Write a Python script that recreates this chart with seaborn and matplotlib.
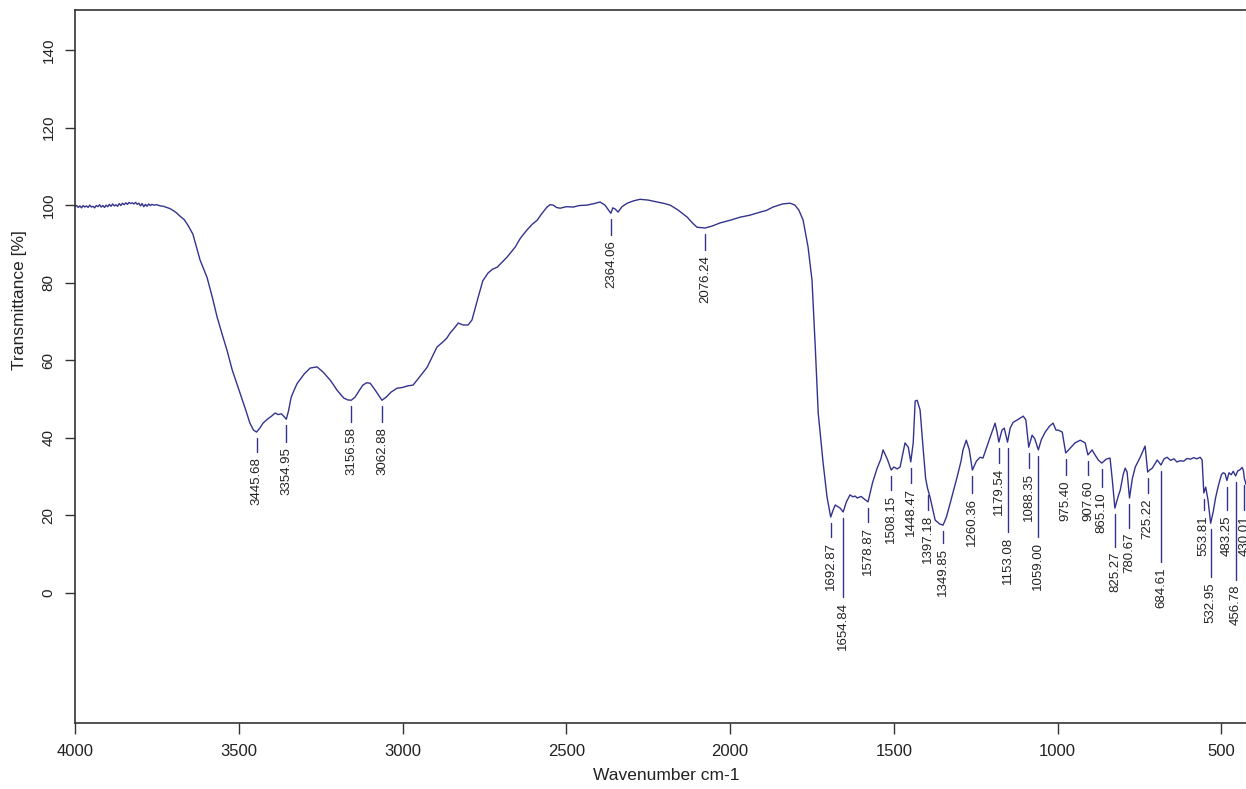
import matplotlib
matplotlib.use("Agg")
import matplotlib.pyplot as plt
import seaborn as sns
import pandas as pd

# ---------------- data ----------------
wavenumber = [
    4000, 3995, 3990, 3985, 3980, 3975, 3970, 3965, 3960, 3955, 3950, 3945, 3940, 3935,
    3930, 3925, 3920, 3915, 3910, 3905, 3900, 3895, 3890, 3885, 3880, 3875, 3870, 3865,
    3860, 3855, 3850, 3845, 3840, 3835, 3830, 3825, 3820, 3815, 3810, 3805, 3800, 3795,
    3790, 3785, 3780, 3775, 3770, 3765, 3760, 3750, 3740, 3730, 3720, 3710, 3700, 3690,
    3680, 3667, 3655, 3640, 3630, 3618, 3597, 3580, 3566, 3550, 3536, 3520, 3496, 3480,
    3466, 3455, 3445.68, 3435, 3426, 3410, 3400, 3389, 3380, 3370, 3362, 3354.95, 3348,
    3340, 3330, 3322, 3300, 3282, 3261, 3243, 3220, 3200, 3180, 3168, 3156.58, 3145, 3130,
    3121, 3110, 3099, 3085, 3062.88, 3050, 3035, 3017, 3000, 2985, 2968, 2950, 2925, 2910,
    2895, 2880, 2865, 2855, 2840, 2830, 2815, 2800, 2788, 2769, 2755, 2739, 2725, 2711,
    2695, 2681, 2656, 2640, 2620, 2605, 2589, 2575, 2559, 2550, 2540, 2530, 2519, 2500,
    2479, 2460, 2437, 2415, 2397, 2382, 2370, 2364.06, 2358, 2351, 2342, 2330, 2314, 2295,
    2275, 2250, 2223, 2200, 2183, 2160, 2131, 2115, 2101, 2076.24, 2055, 2031, 2000, 1969,
    1940, 1908, 1890, 1869, 1840, 1817, 1802, 1790, 1777, 1762, 1750, 1740, 1731, 1716,
    1704, 1692.87, 1685, 1679, 1670, 1664, 1654.84, 1645, 1634, 1625, 1618, 1612, 1600,
    1590, 1578.87, 1565, 1551, 1540, 1533, 1520, 1508.15, 1500, 1490, 1481, 1466, 1456,
    1448.47, 1441, 1435, 1429, 1420, 1411, 1403, 1397.18, 1389, 1374, 1360, 1349.85, 1340,
    1328, 1307, 1295, 1289, 1279, 1270, 1260.36, 1248, 1237, 1228, 1215, 1206, 1191, 1185,
    1179.54, 1170, 1163, 1153.08, 1145, 1136, 1120, 1105, 1097, 1088.35, 1078, 1070,
    1059.00, 1050, 1038, 1025, 1014, 1005, 998, 986, 975.40, 960, 947, 931, 916, 907.60,
    895, 885, 876, 865.10, 852, 840, 833, 825.27, 815, 809, 800, 794, 788, 780.67, 772,
    763, 748, 733, 725.22, 718, 711, 696, 684.61, 675, 666, 655, 645, 636, 626, 615, 605,
    595, 585, 575, 565, 559, 553.81, 548, 541, 532.95, 525, 518, 510, 500, 495, 489,
    483.25, 477, 470, 464, 456.78, 450, 443, 437, 433, 430.01, 428, 425,
]
transmittance = [
    99.6, 99.9, 99.4, 99.8, 99.3, 99.9, 99.5, 99.8, 99.4, 100.0, 99.5, 99.7, 99.3, 99.9,
    99.6, 100.1, 99.5, 99.9, 99.4, 100.0, 99.6, 100.2, 99.7, 100.3, 99.8, 100.1, 99.7, 100.4,
    99.9, 100.5, 100.1, 100.6, 100.2, 100.7, 100.4, 100.6, 100.3, 100.7, 100.2, 100.5, 99.8, 100.4,
    99.6, 100.2, 99.7, 100.3, 99.9, 100.2, 100.0, 100.1, 99.8, 99.7, 99.4, 99.1, 98.6, 98.0,
    97.2, 96.3, 94.8, 92.5, 89.5, 85.8, 81.4, 76.0, 71.1, 66.5, 62.6, 57.5, 51.5, 47.5,
    43.8, 42.0, 41.5, 42.6, 43.8, 45.0, 45.6, 46.4, 46.0, 46.2, 45.5, 44.8, 47.0,
    50.5, 52.5, 54.0, 56.5, 58.0, 58.3, 57.0, 54.8, 52.3, 50.3, 49.8, 49.7, 50.5, 52.5,
    53.6, 54.2, 54.1, 52.5, 49.7, 50.5, 51.8, 52.8, 53.0, 53.4, 53.6, 55.5, 58.2, 60.8,
    63.4, 64.5, 65.7, 67.0, 68.5, 69.6, 69.1, 69.1, 70.4, 76.3, 80.5, 82.5, 83.5, 84.0,
    85.4, 86.6, 89.2, 91.5, 93.6, 95.0, 96.1, 97.8, 99.5, 100.1, 100.0, 99.4, 99.2, 99.6,
    99.5, 99.9, 100.0, 100.4, 100.8, 100.0, 98.6, 97.9, 99.3, 99.0, 98.2, 99.6, 100.5, 101.1,
    101.5, 101.3, 100.8, 100.4, 100.0, 98.8, 96.9, 95.4, 94.3, 94.1, 94.6, 95.4, 96.1, 96.9,
    97.4, 98.2, 98.6, 99.5, 100.3, 100.5, 100.0, 98.7, 96.1, 89.2, 80.7, 63.4, 46.4, 33.5,
    24.7, 19.6, 21.5, 22.7, 22.2, 21.9, 20.9, 23.5, 25.3, 24.8, 25.0, 24.5, 24.9,
    24.2, 23.5, 28.5, 32.2, 34.5, 36.9, 34.5, 31.7, 32.5, 32.0, 32.5, 38.7, 37.6,
    33.8, 38.7, 49.5, 49.7, 47.2, 37.6, 29.5, 27.0, 24.5, 18.8, 17.8, 17.5, 19.5,
    23.2, 29.9, 34.0, 36.9, 39.4, 37.0, 31.7, 34.0, 35.0, 34.8, 38.0, 40.2, 43.8, 41.5,
    38.9, 42.0, 42.5, 38.9, 42.5, 44.0, 44.8, 45.6, 44.6, 37.6, 40.7, 39.8,
    36.9, 39.5, 41.5, 43.0, 43.8, 42.0, 42.0, 41.5, 36.1, 37.5, 38.7, 39.4, 38.7, 35.6,
    36.9, 35.5, 34.3, 33.5, 34.5, 34.8, 29.0, 21.9, 25.0, 26.5, 30.5, 32.2, 31.2, 24.5, 29.5,
    32.5, 35.0, 37.9, 31.2, 31.8, 32.2, 34.3, 33.0, 34.6, 35.0, 34.2, 34.6, 33.8, 34.1, 34.0, 34.7,
    34.5, 34.9, 34.6, 35.0, 34.3, 25.8, 27.3, 24.0, 18.0, 21.0, 24.5, 27.5, 30.5, 31.0, 30.8,
    29.0, 31.0, 30.5, 31.4, 30.2, 31.5, 31.8, 32.4, 31.6, 29.5, 29.0, 28.0,
]

peak_wavenumbers = [
    3445.68, 3354.95, 3156.58, 3062.88, 2364.06, 2076.24, 1692.87, 1654.84, 1578.87,
    1508.15, 1448.47, 1397.18, 1349.85, 1260.36, 1179.54, 1153.08, 1088.35, 1059.00,
    975.40, 907.60, 865.10, 825.27, 780.67, 725.22, 684.61, 553.81, 532.95, 483.25,
    456.78, 430.01,
]

# layout: where each peak marker line ends (in transmittance units)
label_depth = [
    36.3, 38.9, 44.1, 44.1, 92.3, 88.4, 14.4, -1.0, 18.3,
    26.5, 28.4, 21.4, 12.9, 25.8, 33.5, 15.7, 32.2, 14.4,
    30.4, 30.4, 27.3, 11.9, 16.8, 25.8, 8.0, 21.4, 4.1, 21.4,
    3.4, 21.4,
]

x_ticks = [4000, 3500, 3000, 2500, 2000, 1500, 1000, 500]
y_ticks = [0, 20, 40, 60, 80, 100, 120, 140]

# ---------------- styling ----------------
sns.set_style("ticks")
plt.rcParams['font.family'] = ['Liberation Sans', 'DejaVu Sans']

line_color = '#33338f'
axis_color = '#333333'

fig = plt.figure(figsize=(12.46, 7.89), dpi=100)
ax = fig.add_axes([75 / 1246, 66 / 789, 1171 / 1246, 713 / 789])

df = pd.DataFrame({"Wavenumber": wavenumber, "Transmittance": transmittance})
sns.lineplot(data=df, x="Wavenumber", y="Transmittance", ax=ax, sort=False,
             estimator=None, color=line_color, linewidth=1.0)

ax.set_xlim(4000, 425)
ax.set_ylim(-33.5, 150.3)
ax.set_xticks(x_ticks)
ax.set_yticks(y_ticks)
ax.set_xticklabels([str(v) for v in x_ticks])
ax.set_yticklabels([str(v) for v in y_ticks])

ax.spines['right'].set_visible(False)
for s in ['top', 'left', 'bottom']:
    ax.spines[s].set_color(axis_color)
    ax.spines[s].set_linewidth(1.2)

ax.tick_params(axis='x', length=8, width=1, color=axis_color, labelsize=12,
               labelcolor='#222222', pad=7)
ax.tick_params(axis='y', length=7, width=1, color=axis_color, labelsize=11,
               labelcolor='#222222', pad=7, labelrotation=90)
for lab in ax.get_yticklabels():
    lab.set_va('center')

ax.set_xlabel("Wavenumber cm-1", fontsize=12.5, color='#222222')
ax.set_ylabel("Transmittance [%]", fontsize=12.5, color='#222222')
ax.xaxis.set_label_coords(0.505, -0.063)
ax.yaxis.set_label_coords(-0.041, 0.593)

# peak markers and labels
for p, d in zip(peak_wavenumbers, label_depth):
    t = transmittance[wavenumber.index(p)]
    ax.plot([p, p], [t - 1.6, d], color=line_color, linewidth=1.0)
    ax.text(p, d - 1.3, f"{p:.2f}", rotation=90, ha='center', va='top',
            fontsize=9.5, color='#222222')

fig.savefig("out.png", dpi=100)
